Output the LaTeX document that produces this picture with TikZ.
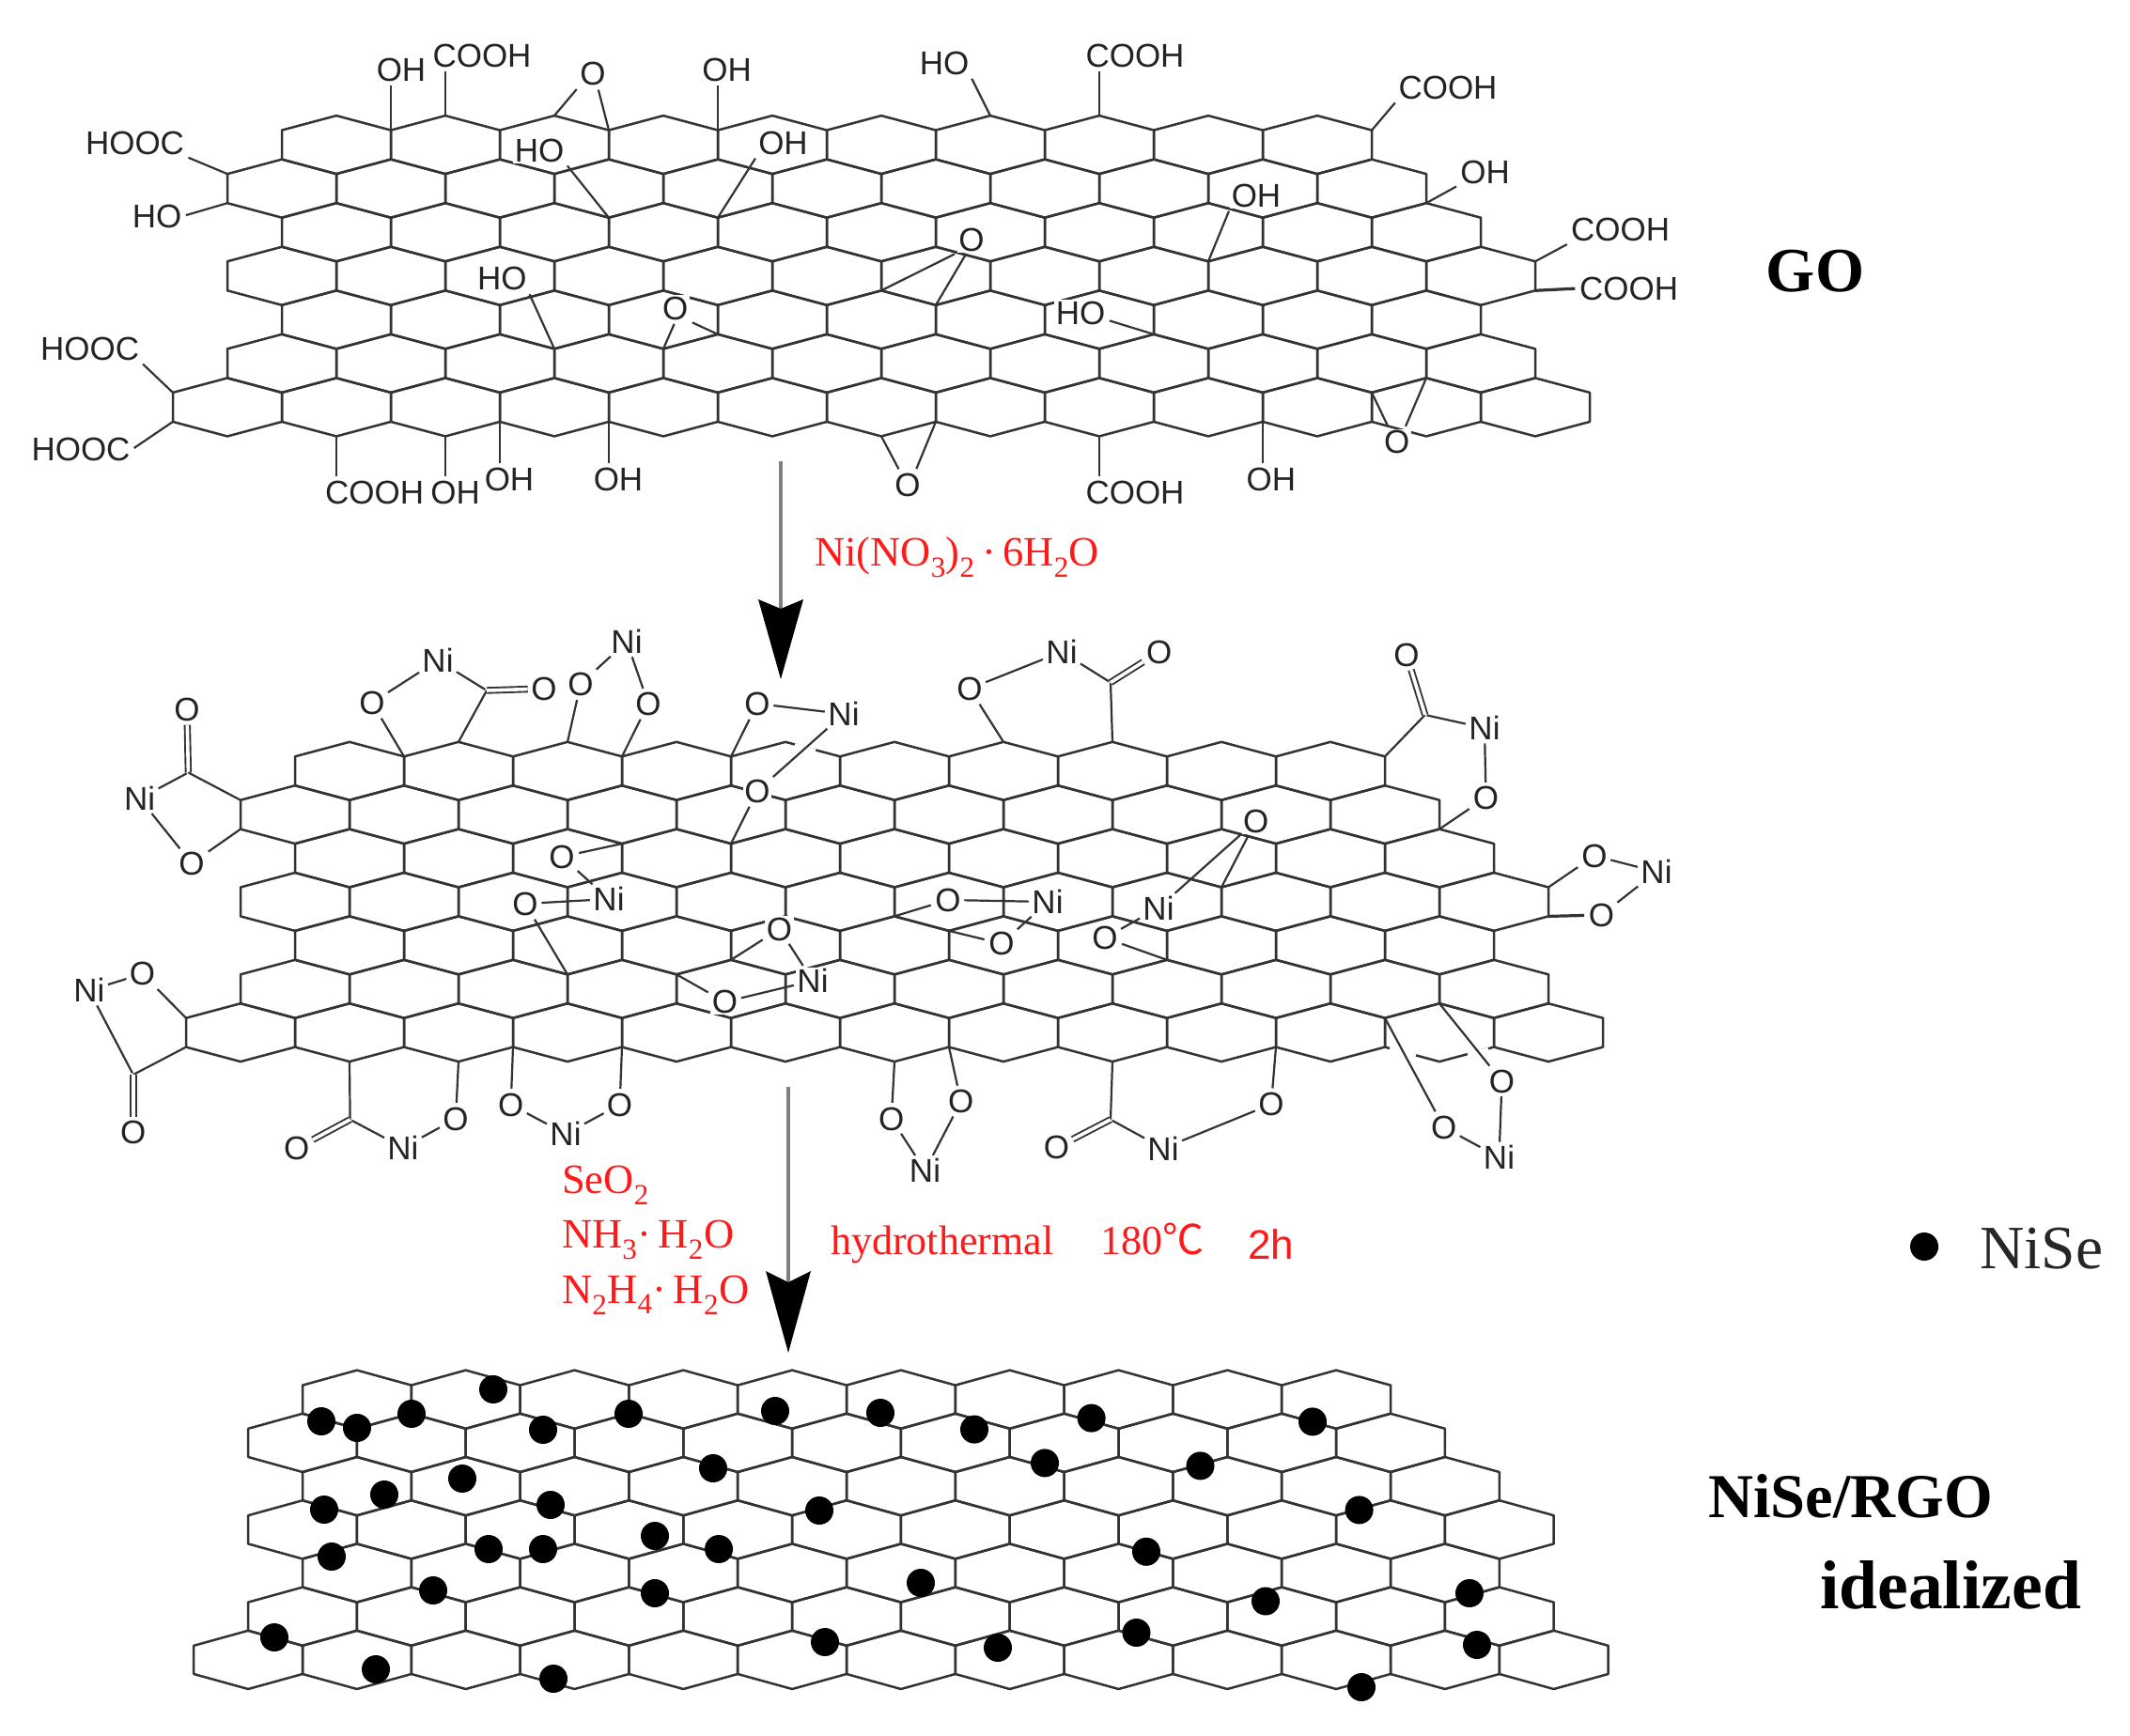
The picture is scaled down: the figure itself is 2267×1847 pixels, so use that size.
\documentclass[tikz,border=0pt]{standalone}
\usepackage{fontspec}
\setmainfont{Liberation Serif}
\newfontfamily\arialf{Liberation Sans}
\newfontfamily\cjkf{Noto Sans CJK SC}
\usetikzlibrary{arrows.meta}
\definecolor{ink}{HTML}{333333}
\definecolor{redt}{HTML}{FF1A1A}
\tikzset{
  lattline/.style={draw=ink,line width=2.5pt,line join=round},
  lab/.style={font=\arialf\fontsize{35}{40}\selectfont,inner sep=1.5pt,fill=white,text=ink!70!black},
  bond/.style={draw=ink,line width=2.2pt,shorten >=3pt},
  bb/.style={draw=ink,line width=2.2pt,shorten >=2pt,shorten <=2pt},
  dbl/.style={draw=ink,line width=1.9pt,double=white,double distance=3.6pt,shorten >=2pt},
  red1/.style={font=\fontsize{44.5}{48}\selectfont,text=redt,inner sep=0pt,anchor=base west},
  big/.style={font=\bfseries\fontsize{67}{72}\selectfont,text=black,inner sep=0pt},
  ball/.style={circle,fill=black,minimum size=30pt,inner sep=0pt},
  arrowone/.style={draw=black!50,line width=4.5pt,-{Stealth[length=85pt,width=48pt,inset=10pt,color=black,line width=0pt]}},
  arrowtwo/.style={draw=black!50,line width=4.5pt,-{Stealth[length=87pt,width=48pt,inset=12pt,color=black,line width=0pt]}},
  gapline/.style={draw=white,line width=4pt}
}
\newcommand{\hexlatt}[6]{% name,x0,y0,s,d,w
  \foreach \k in {0,...,7}{
    \foreach \i in {-3,...,25}{
      \coordinate (#1a\i-\k) at ({#2+#6*\i},{#3+#4*\k});
      \coordinate (#1b\i-\k) at ({#2+#6*\i},{#3+#4*\k-#5});
    }
  }
  \foreach \k/\ca/\cb in {0/1/19,1/0/20,2/1/21,3/0/22,4/1/21,5/0/22,6/-1/23}{
    \pgfmathtruncatemacro\kk{\k+1}
    \pgfmathtruncatemacro\cn{\ca+2}
    \foreach \c in {\ca,\cn,...,\cb}{
      \pgfmathtruncatemacro\lf{\c-1}
      \pgfmathtruncatemacro\rt{\c+1}
      \draw[lattline] (#1a\lf-\k) -- (#1b\c-\k) -- (#1a\rt-\k) -- (#1b\rt-\kk) -- (#1a\c-\kk) -- (#1b\lf-\kk) -- cycle;
    }
  }
}
\begin{document}
\begin{tikzpicture}[x=1pt,y=-1pt]
\useasboundingbox (0,0) rectangle (2267,1847);
\hexlatt{G}{300}{138.6}{46.55}{15.5}{58}
\hexlatt{M}{314}{805.3}{46.4}{15.5}{58}
\hexlatt{R}{322}{1474.6}{46.2}{16}{57.9}

% small breaks in the middle sheet
\draw[gapline] (1479,1116.5) -- (1507,1123);
\draw[gapline] (1562,1122.5) -- (1584,1117);
\draw[gapline] (846,793) -- (868,799);

% GO labels
\node[lab] (g1) at (513,59) {COOH};
\node[lab] (g2) at (427,74) {OH};
\node[lab] (g3) at (631,78.6) {O};
\node[lab] (g4) at (773.6,74) {OH};
\node[lab] (g5) at (143.5,152.5) {HOOC};
\node[lab] (g6) at (167,230) {HO};
\node[lab] (g7) at (574,160) {HO};
\node[lab] (g8) at (833.5,152) {OH};
\node[lab] (g9) at (534.4,296.4) {HO};
\node[lab] (g10) at (718.8,328) {O};
\node[lab] (g11) at (95.7,371.4) {HOOC};
\node[lab] (g12) at (86,478.6) {HOOC};
\node[lab] (g13) at (398.6,524) {COOH};
\node[lab] (g13b) at (484.7,524) {OH};
\node[lab] (g14) at (542,510) {OH};
\node[lab] (g15) at (658,510) {OH};
\node[lab] (g16) at (966,516) {O};
\node[lab] (g17) at (1005,67) {HO};
\node[lab] (g18) at (1208,59) {COOH};
\node[lab] (g19) at (1541,93) {COOH};
\node[lab] (g20) at (1580.5,183) {OH};
\node[lab] (g21) at (1337,208) {OH};
\node[lab] (g22) at (1724.6,244.6) {COOH};
\node[lab] (g23) at (1733.5,307) {COOH};
\node[lab] (g24) at (1034,255) {O};
\node[lab] (g25) at (1150,333) {HO};
\node[lab] (g26) at (1486.7,470.7) {O};
\node[lab] (g27) at (1208,524) {COOH};
\node[lab] (g28) at (1352.8,510) {OH};

% GO bonds
\draw[bond] (Gb3-0) -- (Gb3-0 |- g1.south);
\draw[bond] (Ga2-0) -- (Ga2-0 |- g2.south);
\draw[bond] (Gb5-0) -- (g3.south west);
\draw[bond] (Ga6-0) -- (g3.-70);
\draw[bond] (Ga8-0) -- (Ga8-0 |- g4.south);
\draw[bond] (Ga-1-1) -- (g5.south east);
\draw[bond] (Gb-1-2) -- (g6.east);
\draw[bond] (Ga6-2) -- (g7.south east);
\draw[bond] (Ga8-2) -- (g8.south west);
\draw[bond] (Ga5-5) -- (g9.south east);
\draw[bond] (Ga7-5) -- (g10.south);
\draw[bond] (Gb8-5) -- (g10.south east);
\draw[bond] (Ga-2-6) -- (g11.south east);
\draw[bond] (Gb-2-7) -- (g12.east);
\draw[bond] (Ga1-7) -- (Ga1-7 |- g13.north);
\draw[bond] (Ga3-7) -- (Ga3-7 |- g13b.north);
\draw[bond] (Gb4-7) -- (Gb4-7 |- g14.north);
\draw[bond] (Gb6-7) -- (Gb6-7 |- g15.north);
\draw[bond] (Ga11-7) -- (g16.120);
\draw[bond] (Gb12-7) -- (g16.60);
\draw[bond] (Gb13-0) -- (g17.south east);
\draw[bond] (Gb15-0) -- (Gb15-0 |- g18.south);
\draw[bond] (Ga20-0) -- (g19.south west);
\draw[bond] (Gb21-2) -- (g20.south west);
\draw[bond] (Ga17-3) -- (g21.south west);
\draw[bond] (Ga23-3) -- (g22.south west);
\draw[bond,line width=3.2pt] (Gb23-4) -- (g23.west);
\draw[bond] (Gb11-4) -- (g24.south west);
\draw[bond] (Ga12-4) -- (g24.-110);
\draw[bond] (Gb16-5) -- (g25.-15);
\draw[bond] (Ga20-6) -- (g26.120);
\draw[bond] (Gb21-6) -- (g26.60);
\draw[bond] (Ga15-7) -- (Ga15-7 |- g27.north);
\draw[bond] (Gb18-7) -- (Gb18-7 |- g28.north);

% middle sheet labels
\foreach \nm/\px/\py in {n1/466/703,n2/667/683,n3/898/760,n4/148.7/850,n5/94.8/1054.3,n6/429/1221.6,n7/602/1207,n8/648/957,n9/865/1044,n10/1130/694,n11/1580/775,n12/1763/928,n13/1233/966.5,n14/1115/960,n15/984.5/1246,n16/1238/1222.4,n17/1595.5/1232}
  {\node[lab] (\nm) at (\px,\py) {Ni};}
\foreach \nm/\px/\py in {o1/396/748,o2/579/733,o3/618/728,o4/690/749,o5/806/749,o6/806/842,o7/199/755.5,o8/204/919,o9/151.6/1036.7,o10/141.8/1205,o11/315.8/1222.4,o12/485/1191,o13/543.7/1176,o14/659.6/1176,o15/598/912,o16/559/962,o17/829.6/989,o18/771.6/1066.5,o19/1032/733,o20/1233.6/694,o21/1497/697,o22/1581.5/849,o23/1697/911,o24/1704.5/974,o25/1336.7/874,o26/1176/998.4,o27/1009/958,o28/1066/1004.5,o29/1022.7/1172.7,o30/948.8/1191,o31/1124.5/1221.6,o32/1353/1175.5,o33/1598.5/1151,o34/1536.7/1200}
  {\node[lab] (\nm) at (\px,\py) {O};}
\coordinate (c1) at (518,735);
\coordinate (c2) at (200.4,822.4);
\coordinate (c3) at (141.8,1144);
\coordinate (c4) at (372.6,1191.8);
\coordinate (c5) at (1182,726.5);
\coordinate (c6) at (1516.7,761);
\coordinate (c7) at (1182,1191.8);

% middle sheet bonds
\draw[bond] (Ma2-0) -- (o1);
\draw[draw=ink,line width=2.2pt] (Mb3-0) -- (c1);
\draw[bb] (c1) -- (n1);
\draw[bb] (n1) -- (o1);
\draw[dbl] (c1) -- (o2);
\draw[bond] (Mb5-0) -- (o3);
\draw[bond] (Ma6-0) -- (o4);
\draw[bb] (o3) -- (n2);
\draw[bb] (o4) -- (n2);
\draw[bond] (Ma8-0) -- (o5);
\draw[bb] (o5) -- (n3);
\draw[bb] (n3) -- (o6);
\draw[bond] (Ma8-2) -- (o6);
\draw[dbl] (c2) -- (o7);
\draw[draw=ink,line width=2.2pt] (c2) -- (Ma-1-1);
\draw[bond] (Mb-1-2) -- (o8);
\draw[bb] (n4) -- (c2);
\draw[bb] (n4) -- (o8);
\draw[bond] (Ma-2-6) -- (o9);
\draw[bb] (n5) -- (o9);
\draw[bb] (n5) -- (c3);
\draw[draw=ink,line width=2.2pt] (c3) -- (Mb-2-7);
\draw[dbl] (c3) -- (o10);
\draw[draw=ink,line width=2.2pt] (Ma1-7) -- (c4);
\draw[dbl] (c4) -- (o11);
\draw[bb] (c4) -- (n6);
\draw[bond] (Ma3-7) -- (o12);
\draw[bb] (n6) -- (o12);
\draw[bond] (Mb4-7) -- (o13);
\draw[bond] (Mb6-7) -- (o14);
\draw[bb] (o13) -- (n7);
\draw[bb] (o14) -- (n7);
\draw[bond] (Ma6-2) -- (o15);
\draw[bb] (o15) -- (n8);
\draw[bb] (o16) -- (n8);
\draw[bond] (Ma5-5) -- (o16);
\draw[bond] (Mb8-5) -- (o17);
\draw[bb] (o17) -- (n9);
\draw[bond] (Ma7-5) -- (o18);
\draw[bb] (o18) -- (n9);
\draw[draw=ink,line width=2.2pt] (Mb15-0) -- (c5);
\draw[bond] (Mb13-0) -- (o19);
\draw[bb] (o19) -- (n10);
\draw[bb] (n10) -- (c5);
\draw[dbl] (c5) -- (o20);
\draw[draw=ink,line width=2.2pt] (Ma20-0) -- (c6);
\draw[dbl] (c6) -- (o21);
\draw[bb] (c6) -- (n11);
\draw[bb] (n11) -- (o22);
\draw[bond] (Mb21-2) -- (o22);
\draw[bond] (Ma23-3) -- (o23);
\draw[bond,line width=3.2pt] (Mb23-4) -- (o24);
\draw[bb] (o23) -- (n12);
\draw[bb] (o24) -- (n12);
\draw[bb] (n13) -- (o25);
\draw[bond] (Ma17-3) -- (o25);
\draw[bb] (o26) -- (n13);
\draw[bond] (Mb16-5) -- (o26);
\draw[bond] (Mb11-4) -- (o27);
\draw[bb] (o27) -- (n14);
\draw[bond] (Ma12-4) -- (o28);
\draw[bb] (o28) -- (n14);
\draw[bond] (Mb12-7) -- (o29);
\draw[bond] (Ma11-7) -- (o30);
\draw[bb] (o29) -- (n15);
\draw[bb] (o30) -- (n15);
\draw[draw=ink,line width=2.2pt] (Ma15-7) -- (c7);
\draw[dbl] (c7) -- (o31);
\draw[bb] (c7) -- (n16);
\draw[bond] (Mb18-7) -- (o32);
\draw[bb] (n16) -- (o32);
\draw[bond] (Mb21-6) -- (o33);
\draw[bond] (Ma20-6) -- (o34);
\draw[bb] (o33) -- (n17);
\draw[bb] (o34) -- (n17);

% arrows
\coordinate (a1s) at (831,491);
\coordinate (a1e) at (831,723);
\coordinate (a2s) at (839,1157);
\coordinate (a2e) at (839,1440);
\draw[arrowone] (a1s) -- (a1e);
\draw[arrowtwo] (a2s) -- (a2e);

% reagents
\node[red1] (r1) at (867,602) {Ni(NO\textsubscript{3})\textsubscript{2}\,·\,6H\textsubscript{2}O};
\node[red1] (r2) at (598,1270) {SeO\textsubscript{2}};
\node[red1] (r3) at (598,1328) {NH\textsubscript{3}·\,H\textsubscript{2}O};
\node[red1] (r4) at (598,1387) {N\textsubscript{2}H\textsubscript{4}·\,H\textsubscript{2}O};
\node[red1,font=\fontsize{44}{48}\selectfont] (r5) at (884,1335) {hydrothermal};
\node[red1,font=\fontsize{44}{48}\selectfont] (r6) at (1171,1335) {180{\cjkf ℃}};
\node[red1,font=\arialf\fontsize{44}{48}\selectfont] (r7) at (1328,1340) {2h};

% big titles
\node[big] (tgo) at (1932,289) {GO};
\node[big,anchor=west,font=\bfseries\fontsize{66.5}{72}\selectfont] (trgo) at (1818,1593) {NiSe/RGO};
\node[big,anchor=west,font=\bfseries\fontsize{73.5}{76}\selectfont] (tid) at (1937,1687) {idealized};
\node[ball] (legdot) at (2048,1327) {};
\node[anchor=west,inner sep=0pt,font=\fontsize{65.5}{70}\selectfont,text=black!85] (leg) at (2107,1329) {NiSe};

% NiSe balls
\foreach \px/\py [count=\n] in {525/1479,342/1513,380/1520,438/1505,578/1522,669/1505,825/1502,937/1504,759/1563,492/1574,409/1591,345/1607,586/1602,872/1608,697/1635,520/1649,578/1649,765/1649,353/1657,461/1693,697/1696,292/1743,878/1748,400/1777,589/1787,1037/1521.6,1161.6/1509.6,1397/1513.4,1112/1557.4,1277.5/1560.4,1446.6/1607.4,1220/1651.8,980/1685,1564/1696,1347/1704.5,1209.5/1738,1062/1754,1572/1751,1449/1796}
  {\node[ball] (b\n) at (\px,\py) {};}
\end{tikzpicture}
\end{document}
